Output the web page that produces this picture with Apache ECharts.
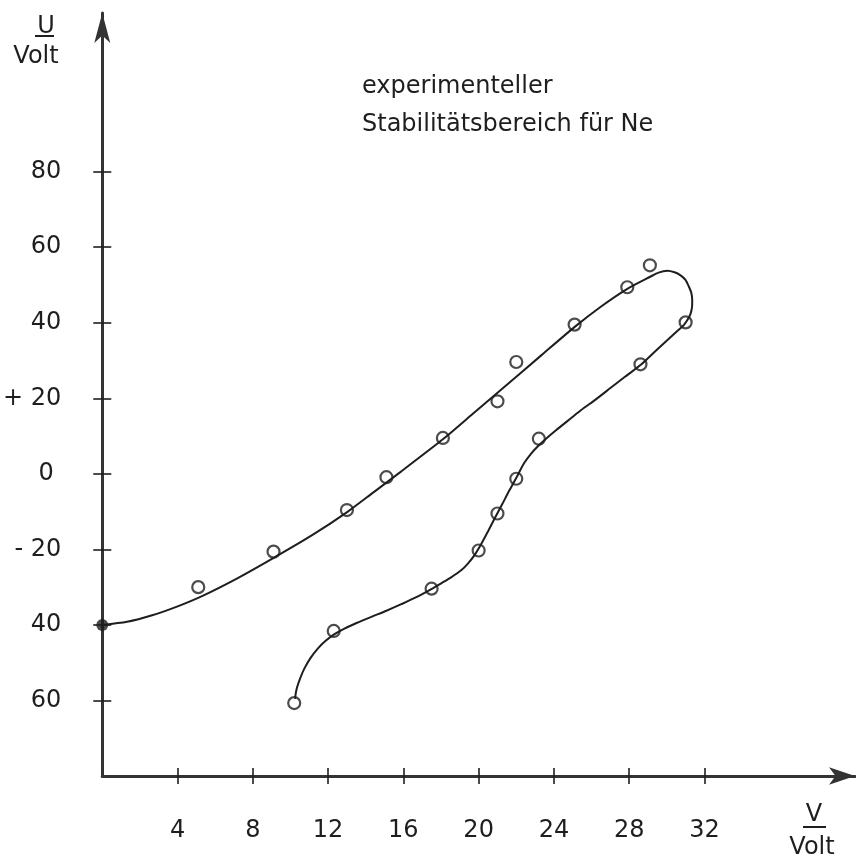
<!DOCTYPE html>
<html>
<head>
<meta charset="utf-8">
<script src="https://cdn.jsdelivr.net/npm/echarts@6/dist/echarts.min.js"></script>
<style>
html,body{margin:0;padding:0;background:#fff;}
#chart{width:856px;height:860px;}
</style>
</head>
<body>
<div id="chart"></div>
<script>
// ---- data ----
var titleLines = ['experimenteller', 'Stabilitätsbereich für Ne'];
var xTickValues = [4, 8, 12, 16, 20, 24, 28, 32];
var yTickValues = [-60, -40, -20, 0, 20, 40, 60, 80];
var yTickLabels = ['60', '40', '- 20', '0 ', '+ 20', '40', '60', '80'];

// measured points, upper branch (open circles)
var upperV = [5.1, 9.1, 13.0, 15.1, 18.1, 21.0, 22.0, 25.1, 27.9, 29.1];
var upperU = [-30.0, -20.6, -9.6, -0.9, 9.5, 19.2, 29.6, 39.5, 49.4, 55.2];
// measured points, lower branch (open circles)
var lowerV = [10.2, 12.3, 17.5, 20.0, 21.0, 22.0, 23.2, 28.6, 31.0];
var lowerU = [-60.7, -41.6, -30.4, -20.3, -10.5, -1.3, 9.3, 29.0, 40.1];
// start point (filled)
var startV = [0];
var startU = [-40];

// hand-drawn boundary curve, traced along its path (upper branch -> turn -> lower branch)
var curveV = [0, 1.32, 2.65, 3.97, 5.30, 7.15, 9.11, 11.13, 13.03, 14.41, 15.89, 18.10, 19.60, 21.19, 23.31, 25.09, 26.49, 27.90, 29.14, 29.56, 30.02, 30.41, 30.73, 30.99, 31.17, 31.30, 31.35, 31.34, 31.26, 31.10, 30.89, 30.57, 30.02, 29.30, 28.65, 27.81, 27.02, 26.23, 25.43, 24.90, 24.11, 23.58, 23.15, 22.78, 22.41, 21.99, 21.62, 21.25, 20.87, 20.50, 20.13, 19.81, 19.44, 19.07, 18.54, 18.01, 17.51, 16.69, 15.89, 15.10, 14.30, 13.51, 12.87, 12.34, 11.87, 11.44, 11.07, 10.75, 10.52, 10.36, 10.28, 10.25];
var curveU = [-40.0, -39.18, -37.46, -35.15, -32.37, -27.73, -22.24, -16.31, -10.06, -4.90, 0.66, 9.13, 15.49, 22.24, 31.29, 38.84, 44.24, 48.98, 52.24, 53.27, 53.75, 53.35, 52.55, 51.36, 49.59, 47.92, 46.07, 44.21, 42.36, 40.77, 39.32, 37.86, 35.35, 32.04, 28.99, 25.81, 22.77, 19.72, 16.81, 14.69, 11.52, 9.27, 7.28, 5.30, 2.78, -1.19, -4.50, -8.08, -11.65, -15.22, -18.67, -21.31, -23.70, -25.55, -27.40, -28.99, -30.45, -32.67, -34.52, -36.25, -37.86, -39.50, -40.96, -42.44, -44.22, -46.33, -48.74, -51.44, -54.06, -56.37, -58.14, -59.57];

function zip(a, b) { return a.map(function (v, i) { return [v, b[i]]; }); }

var ink = '#1e1e1e';
var FONT = 'DejaVu Sans';
var chart = echarts.init(document.getElementById('chart'), null, {renderer: 'canvas'});

var tickStyle = {color: ink, width: 1.6};

chart.setOption({
  backgroundColor: '#fff',
  animation: false,
  title: {
    text: titleLines.join('\n'),
    left: 357,
    top: 63,
    textStyle: {fontFamily: FONT, fontSize: 24, fontWeight: 'normal', color: ink, lineHeight: 38}
  },
  grid: {left: 100, right: 1, top: 13, bottom: 84, containLabel: false},
  xAxis: [
    {
      type: 'value', min: 0, max: 40, position: 'bottom',
      axisLine: {show: true, onZero: false, symbol: ['none', 'arrow'], symbolSize: [13, 26], symbolOffset: [0, 0], lineStyle: {color: '#333', width: 3}},
      axisTick: {show: true, length: 8, inside: false, customValues: xTickValues, lineStyle: tickStyle},
      axisLabel: {show: true, customValues: xTickValues, margin: 43, fontFamily: FONT, fontSize: 24, color: ink},
      splitLine: {show: false}
    },
    {
      type: 'value', min: 0, max: 40, position: 'bottom', offset: 0,
      axisLine: {show: false, onZero: false},
      axisTick: {show: true, length: 8, inside: true, customValues: xTickValues, lineStyle: tickStyle},
      axisLabel: {show: false},
      splitLine: {show: false}
    }
  ],
  yAxis: [
    {
      type: 'value', min: -80, max: 122, position: 'left',
      axisLine: {show: true, onZero: false, symbol: ['none', 'arrow'], symbolSize: [12, 30], symbolOffset: [0, 0], lineStyle: {color: '#333', width: 3}},
      axisTick: {show: true, length: 9, inside: false, customValues: yTickValues, lineStyle: tickStyle},
      axisLabel: {
        show: true, customValues: yTickValues, margin: 41, fontFamily: FONT, fontSize: 24, color: ink,
        formatter: function (v) { var i = yTickValues.indexOf(v); return i >= 0 ? yTickLabels[i] : ''; }
      },
      splitLine: {show: false}
    },
    {
      type: 'value', min: -80, max: 122, position: 'left', offset: 0,
      axisLine: {show: false, onZero: false},
      axisTick: {show: true, length: 9, inside: true, customValues: yTickValues, lineStyle: tickStyle},
      axisLabel: {show: false},
      splitLine: {show: false}
    }
  ],
  graphic: [
    {type: 'text', x: 46, y: 27, style: {text: 'U', font: '24px "DejaVu Sans"', fill: ink, align: 'center', verticalAlign: 'middle'}},
    {type: 'line', shape: {x1: 35, y1: 36, x2: 54, y2: 36}, style: {stroke: ink, lineWidth: 2}},
    {type: 'text', x: 36, y: 57, style: {text: 'Volt', font: '24px "DejaVu Sans"', fill: ink, align: 'center', verticalAlign: 'middle'}},
    {type: 'text', x: 814, y: 815, style: {text: 'V', font: '24px "DejaVu Sans"', fill: ink, align: 'center', verticalAlign: 'middle'}},
    {type: 'line', shape: {x1: 803, y1: 827, x2: 826, y2: 827}, style: {stroke: ink, lineWidth: 2}},
    {type: 'text', x: 812, y: 848, style: {text: 'Volt', font: '24px "DejaVu Sans"', fill: ink, align: 'center', verticalAlign: 'middle'}}
  ],
  series: [
    {
      name: 'Grenzkurve', type: 'line', xAxisIndex: 0, yAxisIndex: 0,
      data: zip(curveV, curveU), smooth: 0.25, showSymbol: false, clip: false,
      lineStyle: {color: ink, width: 2}
    },
    {
      name: 'oberer Ast', type: 'scatter', xAxisIndex: 0, yAxisIndex: 0,
      data: zip(upperV, upperU), symbol: 'circle', symbolSize: 12, clip: false,
      itemStyle: {color: 'rgba(255,255,255,0)', borderColor: ink, borderWidth: 2.2}
    },
    {
      name: 'unterer Ast', type: 'scatter', xAxisIndex: 0, yAxisIndex: 0,
      data: zip(lowerV, lowerU), symbol: 'circle', symbolSize: 12, clip: false,
      itemStyle: {color: 'rgba(255,255,255,0)', borderColor: ink, borderWidth: 2.2}
    },
    {
      name: 'Start', type: 'scatter', xAxisIndex: 0, yAxisIndex: 0,
      data: zip(startV, startU), symbol: 'circle', symbolSize: 12, clip: false,
      itemStyle: {color: ink}
    }
  ]
});
</script>
</body>
</html>
